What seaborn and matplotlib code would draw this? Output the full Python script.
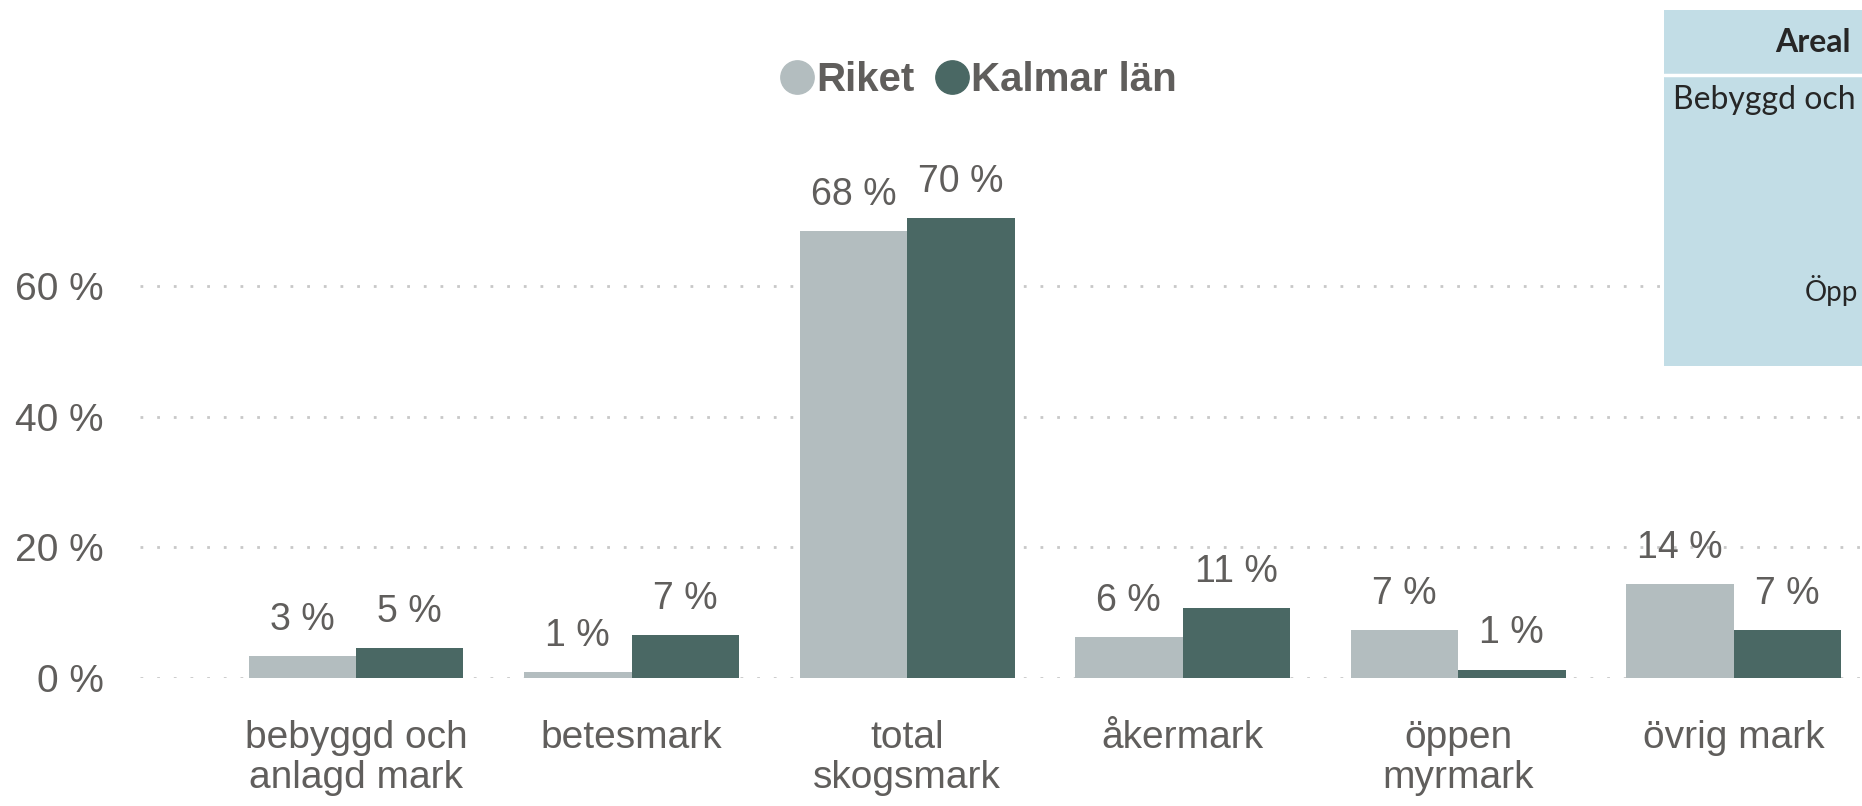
import pandas as pd
import matplotlib.pyplot as plt
import seaborn as sns
from matplotlib.lines import Line2D
from matplotlib.patches import Rectangle

# Data (share of land area, %)
kategorier = ['bebyggd och\nanlagd mark', 'betesmark', 'total\nskogsmark',
              'åkermark', 'öppen\nmyrmark', 'övrig mark']
riket = [3.3, 0.9, 68.4, 6.2, 7.3, 14.4]
kalmar = [4.6, 6.6, 70.4, 10.7, 1.3, 7.4]
serier = ['Riket', 'Kalmar län']
farger = ['#B3BDBF', '#4A6864']

df = pd.DataFrame({
    'kategori': kategorier * 2,
    'andel': riket + kalmar,
    'omrade': [serier[0]] * len(riket) + [serier[1]] * len(kalmar),
})

sns.set_style('white')
plt.rcParams['font.family'] = ['Liberation Sans', 'DejaVu Sans']
textfarg = '#605E5C'

fig = plt.figure(figsize=(18.62, 8.06), dpi=100)
ax = fig.add_axes([140 / 1862, 1 - 678 / 806, 1 - 140 / 1862, (678 - 90) / 806])

sns.barplot(data=df, x='kategori', y='andel', hue='omrade', order=kategorier,
            hue_order=serier, palette=farger, width=0.78, gap=0, saturation=1,
            legend=False, ax=ax, zorder=3, linewidth=0)

for cont, vals in zip(ax.containers, [riket, kalmar]):
    ax.bar_label(cont, labels=[f'{round(v)} %' for v in vals], padding=13,
                 fontsize=27, color=textfarg)

ax.set_xlim(-0.784, 5.466)
ax.set_ylim(0, 90)
ax.set_yticks([0, 20, 40, 60])
ax.set_yticklabels(['0 %', '20 %', '40 %', '60 %'])
ax.yaxis.grid(True, color='#C8C8C8', linestyle=(0, (1, 5)), linewidth=2)
ax.xaxis.grid(False)
ax.set_xlabel('')
ax.set_ylabel('')
for s in ax.spines.values():
    s.set_visible(False)
ax.tick_params(axis='y', length=0, pad=26, labelsize=28, labelcolor=textfarg)
ax.tick_params(axis='x', length=0, pad=30, labelsize=28, labelcolor=textfarg)
for lbl in ax.get_xticklabels():
    lbl.set_linespacing(1.15)

# Legend with round markers
handles = [Line2D([], [], marker='o', linestyle='', markersize=24,
                  markerfacecolor=c, markeredgecolor=c) for c in farger]
leg = fig.legend(handles, serier, loc='center', bbox_to_anchor=(0.526, 1 - 80 / 806),
                 ncol=2, frameon=False, handlelength=0.75, handletextpad=0.1,
                 columnspacing=0.55, prop={'size': 29, 'weight': 'bold'})
for t in leg.get_texts():
    t.set_color(textfarg)

# Table box partly visible at the right edge
fig.patches.append(Rectangle((1664 / 1862, 1 - 366 / 806), 1 - 1664 / 1862, 356 / 806,
                             transform=fig.transFigure, facecolor='#C2DDE6',
                             edgecolor='none', zorder=5))
fig.lines.append(Line2D([1664 / 1862, 1], [1 - 74.5 / 806, 1 - 74.5 / 806],
                        transform=fig.transFigure, color='white', linewidth=2.5, zorder=6))
fig.text(1775 / 1862, 1 - 43 / 806, 'Areal', fontsize=23, fontweight='bold',
         family='Lato', va='center', ha='left', zorder=7)
fig.text(1673 / 1862, 1 - 100 / 806, 'Bebyggd och', fontsize=23,
         family='Lato', va='center', ha='left', zorder=7)
fig.text(1805 / 1862, 1 - 290 / 806, 'Öpp', fontsize=20,
         family='Lato', va='center', ha='left', zorder=7)

plt.savefig('out.png', dpi=100)
